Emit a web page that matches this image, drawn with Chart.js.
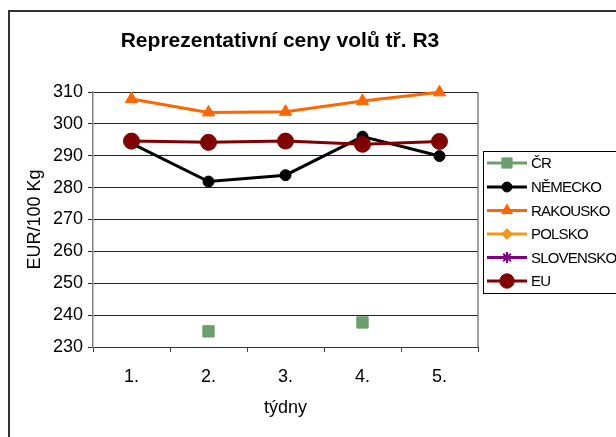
<!DOCTYPE html>
<html>
<head>
<meta charset="utf-8">
<script src="https://cdn.jsdelivr.net/npm/chart.js@4.4.1/dist/chart.umd.min.js"></script>
<style>
html,body{margin:0;padding:0;background:#fff;}
#wrap{position:relative;width:616px;height:437px;}
</style>
</head>
<body>
<div id="wrap"><canvas id="c" width="616" height="437"></canvas></div>
<script>
const chartTitle = 'Reprezentativní ceny volů tř. R3';
const weeks = ['1.', '2.', '3.', '4.', '5.'];
const yTitle = 'EUR/100 Kg';
const xTitle = 'týdny';
const seriesNames = ['ČR', 'NĚMECKO', 'RAKOUSKO', 'POLSKO', 'SLOVENSKO', 'EU'];
const cr = [null, 234.9, null, 237.7, null];
const nemecko = [293.9, 281.9, 283.9, 296.0, 289.9];
const rakousko = [307.8, 303.6, 303.8, 307.2, 309.9];
const polsko = [null, null, null, null, null];
const slovensko = [null, null, null, null, null];
const eu = [294.6, 294.2, 294.6, 293.6, 294.5];
const yMin = 230, yMax = 310, yStep = 10;

const FONT = "'Liberation Sans', Arial, sans-serif";

function ds(label, data, color, style, radius, order) {
  return {
    label, data,
    borderColor: color, backgroundColor: color,
    pointBackgroundColor: color, pointBorderColor: color,
    borderWidth: 3, pointStyle: style, pointRadius: radius, pointHoverRadius: radius,
    pointBorderWidth: style === 'star' ? 2 : 1,
    tension: 0, spanGaps: false, order, clip: false
  };
}

const datasets = [
  ds(seriesNames[0], cr, '#6B9F6E', 'rect', 8, 5),
  ds(seriesNames[1], nemecko, '#000000', 'circle', 5.5, 3),
  ds(seriesNames[2], rakousko, '#FF6600', 'triangle', 7, 2),
  ds(seriesNames[3], polsko, '#EE9A1A', 'rectRot', 6, 4),
  ds(seriesNames[4], slovensko, '#800080', 'star', 6, 4),
  ds(seriesNames[5], eu, '#800000', 'circle', 8, 0)
];

const decor = {
  id: 'decor',
  beforeDraw(chart) {
    const ctx = chart.ctx;
    ctx.save();
    ctx.fillStyle = '#fff';
    ctx.fillRect(0, 0, chart.width, chart.height);
    ctx.restore();
  },
  beforeDatasetsDraw(chart) {
    const {ctx, chartArea: a} = chart;
    ctx.save();
    ctx.strokeStyle = '#808080';
    ctx.lineWidth = 1.5;
    ctx.beginPath();
    ctx.moveTo(a.right, a.top); ctx.lineTo(a.right, a.bottom);
    ctx.stroke();
    ctx.restore();
  },
  afterDraw(chart) {
    const ctx = chart.ctx;
    ctx.save();
    // outer border
    ctx.strokeStyle = '#333';
    ctx.lineWidth = 2;
    ctx.strokeRect(9, 11, 800, 600);
    // title
    ctx.fillStyle = '#000';
    ctx.font = 'bold 21px ' + FONT;
    ctx.textAlign = 'center';
    ctx.textBaseline = 'middle';
    ctx.fillText(chartTitle, 280, 41);
    // legend box
    ctx.strokeStyle = '#000';
    ctx.lineWidth = 1;
    ctx.strokeRect(483.5, 151.5, 300, 142);
    const rows = [163, 187, 210.5, 234, 257.5, 281];
    chart.data.datasets.forEach((d, i) => {
      const y = rows[i];
      ctx.strokeStyle = d.borderColor;
      ctx.lineWidth = 3;
      ctx.beginPath(); ctx.moveTo(487, y); ctx.lineTo(527, y); ctx.stroke();
      ctx.fillStyle = d.pointBackgroundColor;
      ctx.lineWidth = d.pointBorderWidth;
      Chart.helpers.drawPoint(ctx, {pointStyle: d.pointStyle, radius: d.pointRadius * 0.9, rotation: 0, borderWidth: d.pointBorderWidth}, 507, y);
      ctx.fillStyle = '#000';
      ctx.font = '15px ' + FONT;
      ctx.textAlign = 'left';
      ctx.textBaseline = 'middle';
      try { ctx.letterSpacing = '-0.8px'; } catch (e) {}
      ctx.fillText(d.label, 531, y + 1);
      try { ctx.letterSpacing = '0px'; } catch (e) {}
    });
    ctx.restore();
  }
};

new Chart(document.getElementById('c'), {
  type: 'line',
  data: { labels: weeks, datasets },
  options: {
    responsive: false,
    animation: false,
    devicePixelRatio: 1,
    layout: { padding: { top: 92, right: 138, left: 0, bottom: 0 } },
    plugins: {
      legend: { display: false },
      title: { display: false },
      tooltip: { enabled: false }
    },
    scales: {
      x: {
        offset: true,
        afterFit(s) { s.height = 90; },
        grid: { offset: true, drawOnChartArea: false, drawTicks: true, tickLength: 5, color: '#444', lineWidth: 1 },
        border: { color: '#333', width: 1 },
        ticks: { color: '#000', font: { family: FONT, size: 18 }, padding: 14, maxRotation: 0 },
        title: { display: true, text: xTitle, color: '#000', font: { family: FONT, size: 18 }, padding: { top: 0, bottom: 18 } }
      },
      y: {
        min: yMin, max: yMax,
        afterFit(s) { s.width = 93; },
        grid: { color: '#222', lineWidth: 1, tickLength: 5, drawTicks: true },
        border: { color: '#808080', width: 1.5 },
        ticks: { stepSize: yStep, color: '#000', font: { family: FONT, size: 18 }, padding: 5 },
        title: { display: true, text: yTitle, color: '#000', font: { family: FONT, size: 18 }, padding: { top: 24, bottom: 0 } }
      }
    }
  },
  plugins: [decor]
});
</script>
</body>
</html>
